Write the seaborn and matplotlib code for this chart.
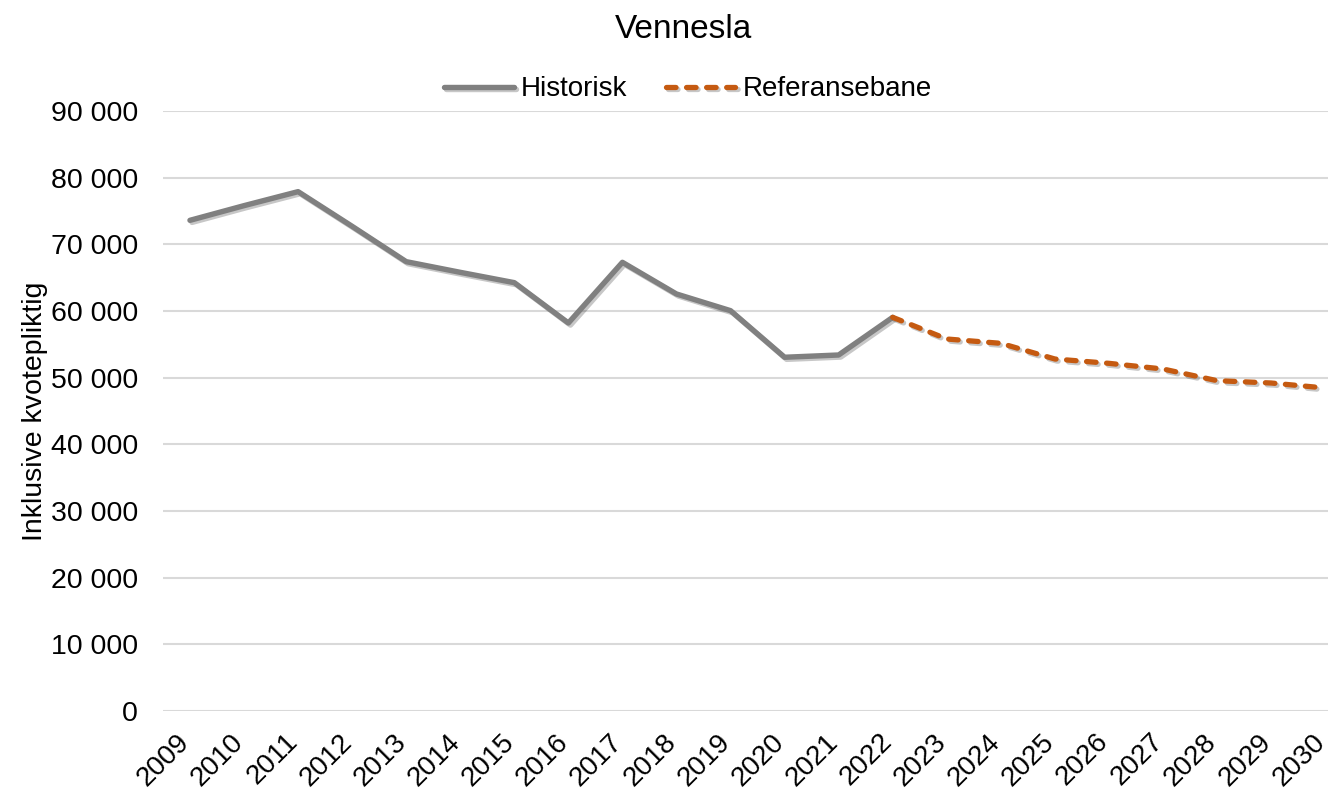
import seaborn as sns
import matplotlib.pyplot as plt
import matplotlib.patheffects as pe
import matplotlib.transforms as mtransforms
from matplotlib.ticker import FuncFormatter
import pandas as pd

# data
years_hist = list(range(2009, 2023))
historisk = [73600, 75800, 77900, 72700, 67400, 65800, 64250, 58200, 67300,
             62550, 60050, 53060, 53400, 59050]

years_ref = list(range(2022, 2031))
referansebane = [59050, 55800, 55150, 52800, 52150, 51300, 49550, 49200, 48450]

all_years = list(range(2009, 2031))

df_hist = pd.DataFrame({"year": years_hist, "value": historisk})
df_ref = pd.DataFrame({"year": years_ref, "value": referansebane})

sns.set_theme(style="white")
plt.rcParams["font.family"] = ["Liberation Sans", "DejaVu Sans"]
plt.rcParams["text.color"] = "black"
plt.rcParams["xtick.color"] = "black"
plt.rcParams["ytick.color"] = "black"
plt.rcParams["axes.labelcolor"] = "black"

fig = plt.figure(figsize=(13.28, 7.91), dpi=100)
# plot area runs a bit past the right edge, as in the reference
ax = fig.add_axes([0.1227, 0.1011, 0.8955, 0.7586])

shadow = [pe.SimpleLineShadow(offset=(1.5, -1.5), alpha=0.22, shadow_color="black"), pe.Normal()]

sns.lineplot(data=df_hist, x="year", y="value", ax=ax, color="#808080",
             linewidth=3.9, label="Historisk", path_effects=shadow,
             solid_capstyle="round")
sns.lineplot(data=df_ref, x="year", y="value", ax=ax, color="#C55A11",
             linewidth=3.8, linestyle=(0, (1.8, 2.0)), label="Referansebane",
             path_effects=shadow, dash_capstyle="round")

ax.set_ylim(0, 90000)
ax.set_xlim(2008.5, 2030.5)
ax.set_yticks(range(0, 90001, 10000))
ax.yaxis.set_major_formatter(FuncFormatter(lambda v, p: f"{int(v):,}".replace(",", " ")))
ax.set_xticks(all_years)
ax.set_xticklabels([str(y) for y in all_years], rotation=45, ha="right",
                   va="bottom", rotation_mode="anchor", fontsize=20)
ax.tick_params(axis="y", labelsize=20.5, length=0, pad=18)
ax.tick_params(axis="x", length=0, pad=26)
shift = mtransforms.ScaledTranslation(5 / 100, 0, fig.dpi_scale_trans)
for lbl in ax.get_xticklabels():
    lbl.set_transform(lbl.get_transform() + shift)

ax.grid(axis="y", color="#d9d9d9", linewidth=1.5)
ax.grid(axis="x", visible=False)
for s in ax.spines.values():
    s.set_visible(False)

ax.set_xlabel("")
ax.set_ylabel("Inklusive kvotepliktig", fontsize=20.5)
ax.yaxis.set_label_coords(-0.097, 0.5)
fig.text(0.515, 0.963, "Vennesla", fontsize=24, ha="center", va="center")

handles, labels = ax.get_legend_handles_labels()
ax.get_legend().remove()
fig.legend(handles, labels, loc="center", bbox_to_anchor=(0.518, 0.887), ncol=2,
           frameon=False, fontsize=20, handlelength=2.5, columnspacing=1.4,
           handletextpad=0.25)

plt.savefig("out.png", dpi=100)
plt.close()
